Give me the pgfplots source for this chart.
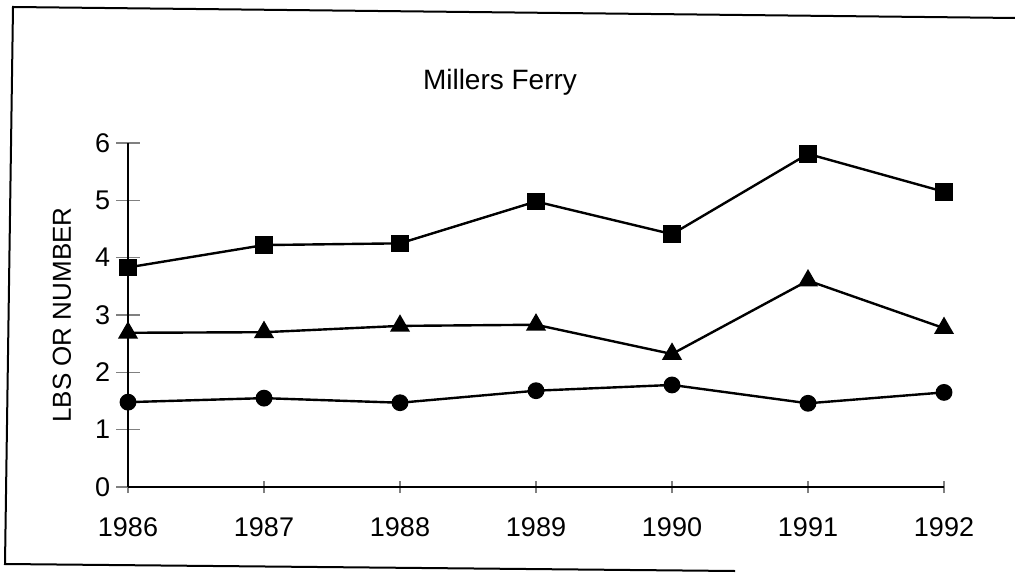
\documentclass[border=0pt]{standalone}
\usepackage{fontspec}
\setmainfont{Liberation Sans}
\usepackage{pgfplots}
\pgfplotsset{compat=1.18}
\begin{document}
\begin{tikzpicture}[x=0.5pt,y=0.5pt]
\useasboundingbox (0,0) rectangle (1015,573);
\draw[line width=1pt, line join=miter] (1015,555) -- (13,566) -- (5,9) -- (735,2);
\begin{axis}[
  at={(64pt,43pt)}, anchor=south west,
  scale only axis, width=408pt, height=172pt,
  xmin=1986, xmax=1992, ymin=0, ymax=6,
  axis x line=bottom, axis y line=left,
  axis line style={-, line width=0.8pt},
  xtick={1986,1987,1988,1989,1990,1991,1992},
  ytick={0,1,2,3,4,5,6},
  /pgf/number format/1000 sep={},
  /pgf/number format/assume math mode=true,
  tick align=center,
  xtick style={line width=0.8pt, /pgfplots/major tick length=6pt},
  ytick style={line width=0.8pt, /pgfplots/major tick length=12pt},
  xticklabel style={anchor=center, yshift=-18pt, font=\fontsize{13.5}{13.5}\selectfont},
  yticklabel style={anchor=center, xshift=-10.5pt, font=\fontsize{13.5}{13.5}\selectfont},
  clip=false,
  every axis plot/.append style={black, line width=1.2pt},
]
\addplot[mark=square*, mark size=3.8pt, mark options={solid}] coordinates {
  (1986,3.83) (1987,4.22) (1988,4.25) (1989,4.98) (1990,4.41) (1991,5.81) (1992,5.15)};
\addplot[mark=triangle*, mark size=4.6pt, mark options={solid}] coordinates {
  (1986,2.69) (1987,2.70) (1988,2.81) (1989,2.83) (1990,2.32) (1991,3.60) (1992,2.77)};
\addplot[mark=*, mark size=3.6pt, mark options={solid}] coordinates {
  (1986,1.48) (1987,1.55) (1988,1.47) (1989,1.68) (1990,1.78) (1991,1.46) (1992,1.65)};
\end{axis}
\node[font=\fontsize{14}{14}\selectfont] at (500,491) {Millers Ferry};
\node[rotate=90, font=\fontsize{13}{13}\selectfont] at (62,258) {LBS OR NUMBER};
\end{tikzpicture}
\end{document}
